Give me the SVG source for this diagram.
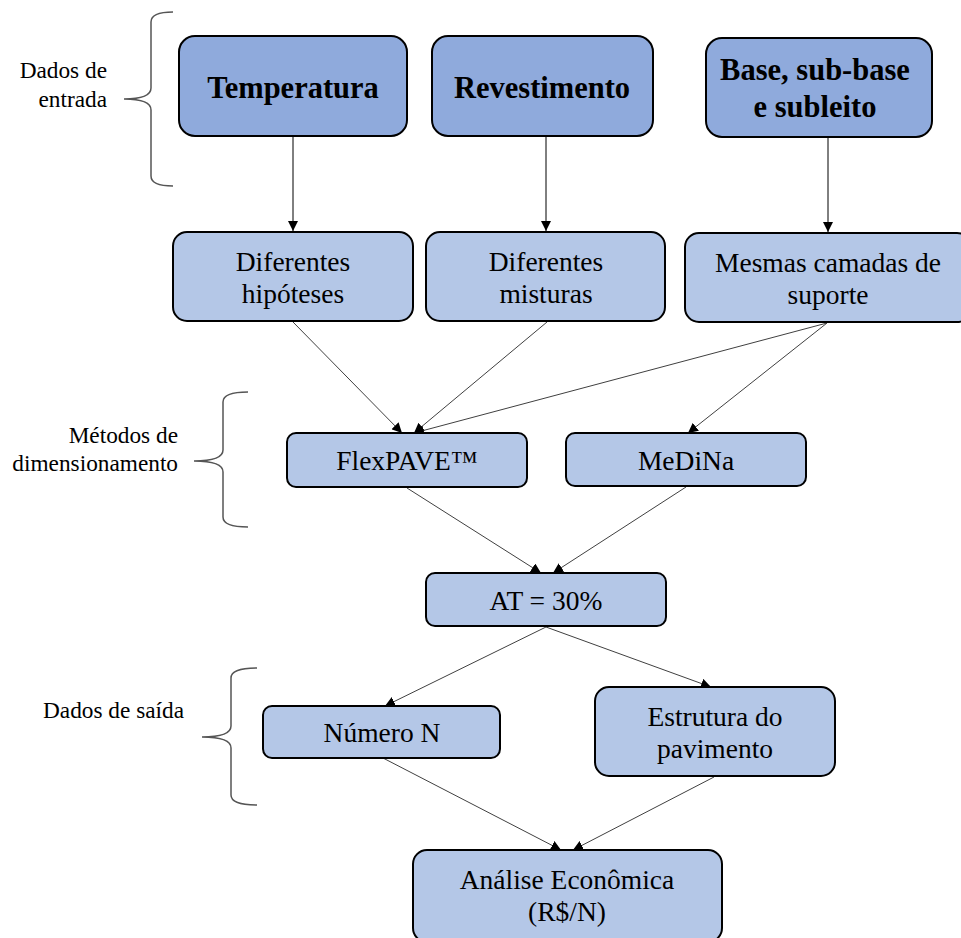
<svg xmlns="http://www.w3.org/2000/svg" width="961" height="938" viewBox="0 0 961 938">
  <style>
    .in { fill: #8FAADC; stroke: #000; stroke-width: 2; }
    .box { fill: #B4C7E7; stroke: #000; stroke-width: 2; }
    .bold { font-family: "Liberation Serif", "Times New Roman", serif; font-weight: bold; font-size: 30.5px; fill: #000; text-anchor: middle; }
    .txt { font-family: "Liberation Serif", "Times New Roman", serif; font-size: 27.5px; fill: #000; text-anchor: middle; }
    .lbl { font-family: "Liberation Serif", "Times New Roman", serif; font-size: 23.3px; fill: #000; }
    .brace { fill: none; stroke: #555; stroke-width: 1.5; }
    .link { fill: none; stroke: #000; stroke-width: 1; }
    .soft { fill: none; stroke: #404040; stroke-width: 1; }
  </style>
  <defs>
    <marker id="arrow" viewBox="0 0 10 10" refX="10" refY="5" markerWidth="10" markerHeight="10" markerUnits="userSpaceOnUse" orient="auto">
      <path d="M0,0 L10,5 L0,10 z" fill="#000"/>
    </marker>
  </defs>

  <rect width="961" height="938" fill="#fff"/>

  <!-- side labels with braces -->
  <g id="label-entrada">
    <path class="brace" d="M173,12 Q151,12 151,22 L151,88 Q151,99 124,99 Q151,99 151,110 L151,176 Q151,186 173,186"/>
    <text class="lbl" text-anchor="end" x="107" y="78">Dados de</text>
    <text class="lbl" text-anchor="end" x="107" y="107">entrada</text>
  </g>
  <g id="label-metodos">
    <path class="brace" d="M248,392 Q223,392 223,402 L223,450 Q223,461 194,461 Q223,461 223,472 L223,517 Q223,527 248,527"/>
    <text class="lbl" text-anchor="end" x="178" y="443">Métodos de</text>
    <text class="lbl" text-anchor="end" x="178" y="471">dimensionamento</text>
  </g>
  <g id="label-saida">
    <path class="brace" d="M257,668 Q231,668 231,678 L231,726 Q231,737 202,737 Q231,737 231,748 L231,795 Q231,805 257,805"/>
    <text class="lbl" x="43" y="718">Dados de saída</text>
  </g>

  <!-- connectors -->
  <g id="connectors">
    <line class="link" x1="293" y1="137" x2="293" y2="231" marker-end="url(#arrow)"/>
    <line class="link" x1="546" y1="137" x2="546" y2="231" marker-end="url(#arrow)"/>
    <line class="link" x1="828" y1="138" x2="828" y2="232" marker-end="url(#arrow)"/>
    <line class="soft" x1="293" y1="322" x2="402" y2="433" marker-end="url(#arrow)"/>
    <line class="soft" x1="547" y1="322" x2="414" y2="433" marker-end="url(#arrow)"/>
    <line class="soft" x1="827" y1="323" x2="414" y2="433" marker-end="url(#arrow)"/>
    <line class="soft" x1="827" y1="323" x2="688" y2="433" marker-end="url(#arrow)"/>
    <line class="soft" x1="407" y1="488" x2="541" y2="573" marker-end="url(#arrow)"/>
    <line class="soft" x1="686" y1="487" x2="553" y2="573" marker-end="url(#arrow)"/>
    <line class="soft" x1="546" y1="627" x2="385" y2="706" marker-end="url(#arrow)"/>
    <line class="soft" x1="546" y1="627" x2="711" y2="687" marker-end="url(#arrow)"/>
    <line class="soft" x1="383" y1="758" x2="561" y2="850" marker-end="url(#arrow)"/>
    <line class="soft" x1="714" y1="777" x2="573" y2="850" marker-end="url(#arrow)"/>
  </g>

  <!-- input data -->
  <g id="temperatura">
    <rect class="in" x="179" y="36" width="228" height="100" rx="16"/>
    <text class="bold" x="293" y="98">Temperatura</text>
  </g>
  <g id="revestimento">
    <rect class="in" x="432" y="36" width="221" height="100" rx="16"/>
    <text class="bold" x="542" y="98">Revestimento</text>
  </g>
  <g id="base">
    <rect class="in" x="706" y="38" width="226" height="99" rx="16"/>
    <text class="bold" x="815" y="80">Base, sub-base</text>
    <text class="bold" x="815" y="117">e subleito</text>
  </g>

  <!-- hypotheses -->
  <g id="hipoteses">
    <rect class="box" x="173" y="232" width="240" height="89" rx="14"/>
    <text class="txt" x="293" y="271">Diferentes</text>
    <text class="txt" x="293" y="303">hipóteses</text>
  </g>
  <g id="misturas">
    <rect class="box" x="426" y="232" width="239" height="89" rx="14"/>
    <text class="txt" x="546" y="271">Diferentes</text>
    <text class="txt" x="546" y="303">misturas</text>
  </g>
  <g id="suporte">
    <rect class="box" x="685" y="233" width="286" height="89" rx="14"/>
    <text class="txt" x="828" y="272">Mesmas camadas de</text>
    <text class="txt" x="828" y="304">suporte</text>
  </g>

  <!-- design methods -->
  <g id="flexpave">
    <rect class="box" x="287" y="433" width="240" height="54" rx="9"/>
    <text class="txt" x="407" y="470">FlexPAVE™</text>
  </g>
  <g id="medina">
    <rect class="box" x="566" y="433" width="240" height="53" rx="9"/>
    <text class="txt" x="686" y="470">MeDiNa</text>
  </g>

  <g id="at">
    <rect class="box" x="426" y="573" width="240" height="53" rx="9"/>
    <text class="txt" x="546" y="610">AT = 30%</text>
  </g>

  <!-- outputs -->
  <g id="numero-n">
    <rect class="box" x="263" y="706" width="237" height="52" rx="9"/>
    <text class="txt" x="382" y="742">Número N</text>
  </g>
  <g id="estrutura">
    <rect class="box" x="595" y="687" width="240" height="89" rx="14"/>
    <text class="txt" x="715" y="726">Estrutura do</text>
    <text class="txt" x="715" y="758">pavimento</text>
  </g>
  <g id="analise">
    <rect class="box" x="413" y="850" width="309" height="92" rx="14"/>
    <text class="txt" x="567" y="889">Análise Econômica</text>
    <text class="txt" x="567" y="921">(R$/N)</text>
  </g>
</svg>
